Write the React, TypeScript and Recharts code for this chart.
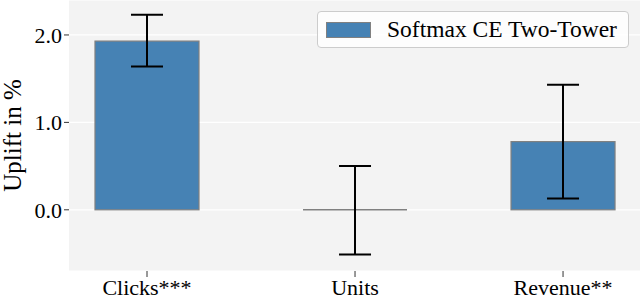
import React from 'react';
import { BarChart, Bar, XAxis, YAxis, CartesianGrid, ErrorBar, Legend } from 'recharts';

const categories = ['Clicks***', 'Units', 'Revenue**'];
const uplift = [1.93, 0.0, 0.78];
const ciLow = [1.64, -0.51, 0.13];
const ciHigh = [2.23, 0.5, 1.43];
const yTicks = [0, 1, 2];
const xTicks = [0, 1, 2];
const seriesName = 'Softmax CE Two-Tower';

const data = categories.map((c, i) => ({
  idx: i,
  name: c,
  value: uplift[i],
  err: [uplift[i] - ciLow[i], ciHigh[i] - uplift[i]],
}));

const FONT = '"Liberation Serif", "DejaVu Serif", serif';
const BAR_FILL = '#4682b4';
const BAR_EDGE = '#808080';

const BarShape = (props: any) => {
  const { x, y, width, height, fill } = props;
  if (Math.abs(height) < 0.5) {
    return <line x1={x} x2={x + width} y1={y} y2={y} stroke={BAR_EDGE} strokeWidth={1.5} />;
  }
  return <rect x={x} y={y} width={width} height={height} fill={fill} stroke={BAR_EDGE} strokeWidth={1.2} />;
};

const LegendBox = () => (
  <div
    style={{
      boxSizing: 'border-box',
      width: 312,
      height: 37,
      background: 'rgba(255,255,255,0.8)',
      border: '1px solid #cccccc',
      borderRadius: 4,
      display: 'flex',
      alignItems: 'center',
      fontFamily: FONT,
      fontSize: 23.5,
      color: '#000',
      whiteSpace: 'nowrap',
    }}
  >
    <span
      style={{
        display: 'inline-block',
        width: 45,
        height: 16,
        background: BAR_FILL,
        border: `1px solid ${BAR_EDGE}`,
        marginLeft: 8,
        marginRight: 16,
        boxSizing: 'border-box',
      }}
    />
    <span>{seriesName}</span>
  </div>
);

const YLabel = (props: any) => {
  const vb = props.viewBox || {};
  const cx = (vb.x || 0) + 12;
  const cy = (vb.y || 0) + (vb.height || 0) / 2;
  return (
    <text
      x={cx}
      y={cy}
      transform={`rotate(-90, ${cx}, ${cy})`}
      textAnchor="middle"
      dominantBaseline="central"
      fontSize={25}
      fontFamily={FONT}
      fill="#000"
    >
      Uplift in %
    </text>
  );
};

export default function App() {
  return (
    <div style={{ position: 'fixed', left: 0, top: 0, width: 640, height: 298, background: '#fff', fontFamily: FONT }}>
      <BarChart width={640} height={298} data={data} margin={{ top: 0, right: 0, bottom: 0, left: 0 }}>
        <CartesianGrid fill="#f3f3f3" stroke="#ffffff" strokeWidth={1.2} vertical={false} />
        <XAxis
          type="number"
          dataKey="idx"
          domain={[-0.375, 2.37]}
          ticks={xTicks}
          allowDataOverflow
          tickFormatter={(v: number) => categories[v] ?? ''}
          axisLine={false}
          tickLine={{ stroke: '#333' }}
          tickSize={6}
          tickMargin={2}
          height={27}
          tick={{ fill: '#000', fontSize: 22, fontFamily: FONT }}
          interval={0}
        />
        <YAxis
          type="number"
          domain={[-0.7, 2.4]}
          ticks={yTicks}
          allowDataOverflow
          tickFormatter={(v: number) => v.toFixed(1)}
          axisLine={false}
          tickLine={{ stroke: '#333' }}
          tickSize={5}
          tickMargin={2}
          width={69}
          tick={{ fill: '#000', fontSize: 22, fontFamily: FONT }}
          label={<YLabel />}
        />
        <Legend
          layout="horizontal"
          verticalAlign="middle"
          content={() => <LegendBox />}
          wrapperStyle={{ top: 11, left: 317, width: 312 }}
        />
        <Bar
          dataKey="value"
          name={seriesName}
          fill={BAR_FILL}
          barSize={104}
          shape={<BarShape />}
          isAnimationActive={false}
        >
          <ErrorBar dataKey="err" direction="y" width={16} stroke="#000" strokeWidth={2} />
        </Bar>
      </BarChart>
    </div>
  );
}
